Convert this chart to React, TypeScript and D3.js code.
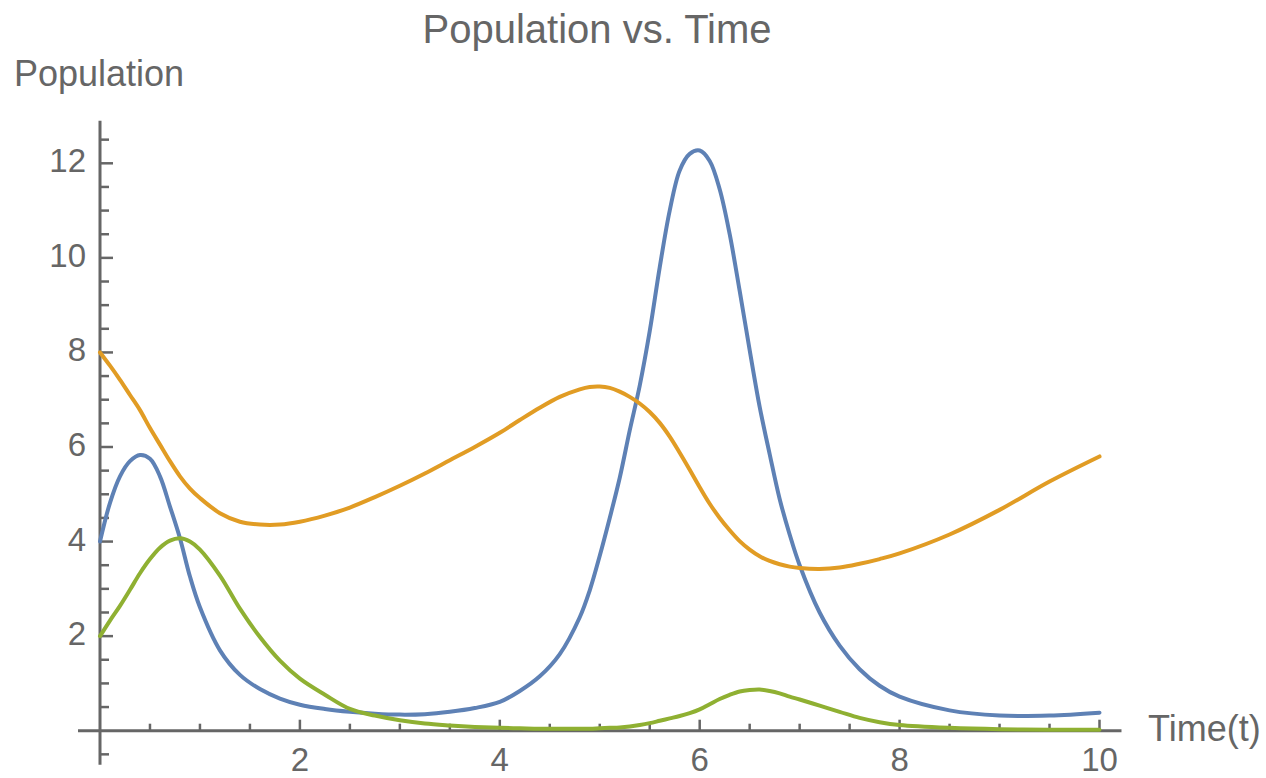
import React from "react";
import * as d3 from "d3";

const times = [0, 0.1, 0.2, 0.3, 0.4, 0.5, 0.6, 0.7, 0.8, 0.9, 1.0, 1.2, 1.4, 1.6, 1.8, 2.0, 2.25, 2.5, 2.75, 3.0, 3.25, 3.5, 3.75, 4.0, 4.2, 4.4, 4.6, 4.8, 4.9, 5.0, 5.1, 5.2, 5.3, 5.4, 5.5, 5.6, 5.7, 5.8, 5.9, 6.0, 6.1, 6.2, 6.3, 6.4, 6.5, 6.6, 6.7, 6.8, 6.9, 7.0, 7.2, 7.4, 7.6, 7.8, 8.0, 8.5, 9.0, 9.5, 10.0];

const blueSeries = [4.0, 4.82, 5.38, 5.70, 5.83, 5.75, 5.38, 4.74, 4.07, 3.26, 2.61, 1.70, 1.18, 0.88, 0.68, 0.55, 0.46, 0.40, 0.36, 0.34, 0.35, 0.40, 0.48, 0.61, 0.84, 1.15, 1.62, 2.40, 2.97, 3.7, 4.5, 5.35, 6.35, 7.3, 8.45, 9.80, 11.0, 11.85, 12.2, 12.27, 12.05, 11.45, 10.5, 9.3, 8.05, 6.85, 5.85, 4.9, 4.15, 3.5, 2.5, 1.8, 1.3, 0.95, 0.72, 0.43, 0.32, 0.32, 0.38];

const orangeSeries = [8.0, 7.72, 7.42, 7.1, 6.78, 6.4, 6.05, 5.7, 5.38, 5.12, 4.92, 4.6, 4.42, 4.36, 4.36, 4.42, 4.55, 4.72, 4.94, 5.18, 5.44, 5.72, 6.0, 6.3, 6.57, 6.83, 7.06, 7.22, 7.27, 7.28, 7.25, 7.17, 7.06, 6.92, 6.74, 6.51, 6.22, 5.88, 5.52, 5.15, 4.8, 4.5, 4.24, 4.01, 3.83, 3.69, 3.59, 3.52, 3.47, 3.44, 3.42, 3.45, 3.53, 3.63, 3.75, 4.15, 4.67, 5.27, 5.8];

const greenSeries = [2.0, 2.33, 2.64, 2.98, 3.33, 3.63, 3.87, 4.02, 4.07, 4.0, 3.83, 3.28, 2.58, 1.98, 1.48, 1.10, 0.76, 0.46, 0.32, 0.22, 0.15, 0.11, 0.08, 0.06, 0.05, 0.04, 0.04, 0.04, 0.04, 0.05, 0.06, 0.07, 0.09, 0.12, 0.16, 0.21, 0.26, 0.31, 0.37, 0.45, 0.56, 0.67, 0.76, 0.83, 0.86, 0.87, 0.84, 0.79, 0.72, 0.66, 0.53, 0.40, 0.27, 0.18, 0.12, 0.06, 0.03, 0.02, 0.02];

const xMajorTicks = [2, 4, 6, 8, 10];
const yMajorTicks = [2, 4, 6, 8, 10, 12];

const seriesList = [
  { name: "blue", values: blueSeries, color: "#5E81B5" },
  { name: "orange", values: orangeSeries, color: "#E19C24" },
  { name: "green", values: greenSeries, color: "#8FB032" },
];

const W = 1266;
const H = 778;
const AXIS = "#666666";
const FONT = "'Liberation Sans', Arial, sans-serif";

export default function App() {
  const x = d3.scaleLinear().domain([0, 10]).range([100, 1099.5]);
  const y = d3.scaleLinear().domain([0, 12]).range([730.7, 163.3]);

  const line = d3
    .line<number>()
    .x((_, i) => x(times[i]))
    .y((d) => y(Math.max(d, 0)))
    .curve(d3.curveCatmullRom.alpha(0.5));

  const xMinor = d3.range(0.5, 10.01, 0.5).filter((v) => Math.abs(v % 2) > 1e-6);
  const yMinor = d3.range(-0.5, 12.51, 0.5).filter((v) => Math.abs(v % 2) > 1e-6 && Math.abs(v) > 1e-6);

  return (
    <svg
      width={W}
      height={H}
      style={{ position: "absolute", left: 0, top: 0, background: "#fff" }}
    >
      {/* axes */}
      <line x1={x(-0.22)} x2={x(10.22)} y1={y(0)} y2={y(0)} stroke={AXIS} strokeWidth={3} />
      <line x1={x(0)} x2={x(0)} y1={y(-0.72)} y2={y(12.9)} stroke={AXIS} strokeWidth={3} />

      {/* x ticks */}
      {xMajorTicks.map((t) => (
        <g key={"xm" + t}>
          <line x1={x(t)} x2={x(t)} y1={y(0)} y2={y(0) - 11} stroke={AXIS} strokeWidth={2.5} />
          <text x={x(t)} y={771} textAnchor="middle" fontSize={33} fill={AXIS} fontFamily={FONT}>
            {t}
          </text>
        </g>
      ))}
      {xMinor.map((t) => (
        <line key={"xn" + t} x1={x(t)} x2={x(t)} y1={y(0)} y2={y(0) - 7} stroke={AXIS} strokeWidth={2.5} />
      ))}

      {/* y ticks */}
      {yMajorTicks.map((v) => (
        <g key={"ym" + v}>
          <line x1={x(0)} x2={x(0) + 13} y1={y(v)} y2={y(v)} stroke={AXIS} strokeWidth={2.5} />
          <text x={86} y={y(v) + 9} textAnchor="end" fontSize={33} fill={AXIS} fontFamily={FONT}>
            {v}
          </text>
        </g>
      ))}
      {yMinor.map((v) => (
        <line key={"yn" + v} x1={x(0)} x2={x(0) + 9} y1={y(v)} y2={y(v)} stroke={AXIS} strokeWidth={2.5} />
      ))}

      {/* series */}
      {seriesList.map((s) => (
        <path
          key={s.name}
          d={line(s.values) || ""}
          fill="none"
          stroke={s.color}
          strokeWidth={4}
          strokeLinejoin="round"
          strokeLinecap="round"
        />
      ))}

      {/* labels */}
      <text x={597} y={43} textAnchor="middle" fontSize={40} fill={AXIS} fontFamily={FONT}>
        Population vs. Time
      </text>
      <text x={14} y={86} fontSize={36} fill={AXIS} fontFamily={FONT}>
        Population
      </text>
      <text x={1148} y={741} fontSize={36} fill={AXIS} fontFamily={FONT}>
        Time(t)
      </text>
    </svg>
  );
}
